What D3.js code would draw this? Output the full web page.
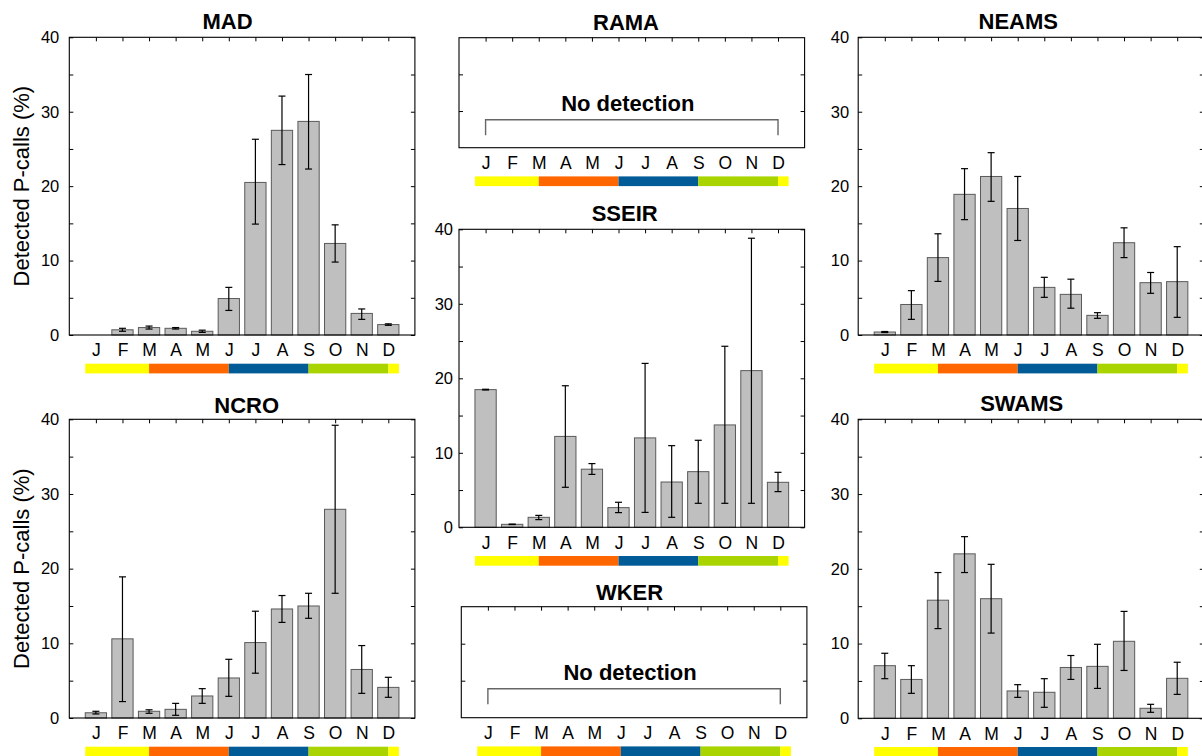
<!DOCTYPE html>
<html>
<head>
<meta charset="utf-8">
<script src="https://cdn.jsdelivr.net/npm/d3@7"></script>
<style>
  html, body { margin: 0; padding: 0; background: #fff; }
  svg { display: block; font-family: "Liberation Sans", Arial, Helvetica, sans-serif; }
</style>
</head>
<body>
<svg id="chart" width="1202" height="756"></svg>
<script>
// ---------- data ----------
const months = ["J","F","M","A","M","J","J","A","S","O","N","D"];
const yTicks = [0, 5, 10, 15, 20, 25, 30, 35, 40];
const yTickLabels = [0, 10, 20, 30, 40];

const madValues  = [null, 0.7, 1.0, 0.9, 0.5, 4.9, 20.5, 27.5, 28.7, 12.3, 2.9, 1.4];
const madLow     = [null, 0.5, 0.8, 0.8, 0.35, 3.3, 14.9, 22.9, 22.3, 9.8, 2.1, 1.3];
const madHigh    = [null, 0.9, 1.2, 1.0, 0.65, 6.4, 26.3, 32.1, 35.0, 14.8, 3.5, 1.5];

const ncroValues = [0.7, 10.6, 0.9, 1.16, 2.95, 5.36, 10.1, 14.6, 15.0, 27.95, 6.5, 4.1];
const ncroLow    = [0.54, 2.2, 0.63, 0.36, 1.96, 2.9, 6.0, 12.8, 13.35, 16.7, 3.3, 2.77];
const ncroHigh   = [0.9, 18.9, 1.1, 1.96, 3.93, 7.86, 14.3, 16.4, 16.7, 39.2, 9.7, 5.45];

const neamsValues = [0.4, 4.1, 10.4, 18.9, 21.3, 17.0, 6.4, 5.46, 2.64, 12.4, 7.03, 7.17];
const neamsLow    = [0.33, 2.1, 7.2, 15.5, 17.96, 12.7, 5.06, 3.6, 2.24, 10.4, 5.6, 2.37];
const neamsHigh   = [0.47, 5.96, 13.6, 22.35, 24.5, 21.3, 7.75, 7.5, 3.0, 14.4, 8.4, 11.87];

const swamsValues = [7.04, 5.2, 15.8, 22.0, 16.0, 3.66, 3.48, 6.8, 6.95, 10.3, 1.34, 5.35];
const swamsLow    = [5.3, 3.34, 12.0, 19.5, 11.4, 2.8, 1.47, 5.2, 4.0, 6.4, 0.8, 3.2];
const swamsHigh   = [8.7, 7.04, 19.5, 24.3, 20.6, 4.5, 5.3, 8.4, 9.9, 14.3, 1.87, 7.5];

const sseirValues = [18.48, 0.4, 1.34, 12.2, 7.8, 2.64, 12.0, 6.08, 7.47, 13.74, 21.03, 6.04];
const sseirLow    = [18.43, 0.37, 1.03, 5.37, 7.1, 1.97, 2.0, 1.34, 3.22, 3.22, 3.22, 4.79];
const sseirHigh   = [18.53, 0.43, 1.6, 19.0, 8.55, 3.36, 22.0, 10.96, 11.68, 24.3, 38.8, 7.38];

const seasonStarts = [0.6, 3, 6, 9, 12];
const seasonEnds   = [3, 6, 9, 12, 12.4];
const seasonColors = ["#ffff00", "#ff6600", "#005b97", "#aad400", "#ffff00"];

const noDetectionText = "No detection";
const yAxisTitle = "Detected P-calls (%)";

// ---------- layout ----------
const W = 345.6, H = 298;
const panels = [
  { name: "MAD",   x0: 69.3,  y0: 37.3,  h: 297.7, tx: 227.5, tdy: 8,   values: madValues,   low: madLow,   high: madHigh,   labels: true, gap: 10, ylabel: true },
  { name: "NCRO",  x0: 69.3,  y0: 419.3, h: 298.7, tx: 246.7, tdy: 6.5, values: ncroValues,  low: ncroLow,  high: ncroHigh,  labels: true, gap: 10, ylabel: true },
  { name: "NEAMS", x0: 858.2, y0: 37.3,  h: 297.7, tx: 1018.3, tdy: 8,  values: neamsValues, low: neamsLow, high: neamsHigh, labels: true, gap: 9 },
  { name: "SWAMS", x0: 858.2, y0: 419.3, h: 299,   tx: 1021.7, tdy: 8,  values: swamsValues, low: swamsLow, high: swamsHigh, labels: true, gap: 9 },
  { name: "SSEIR", x0: 459,   y0: 229.3, h: 298,   tx: 624.7, tdy: 8,   values: sseirValues, low: sseirLow, high: sseirHigh, labels: true, gap: 6 },
  { name: "RAMA",  x0: 459,   y0: 37.7,  h: 110,   tx: 626,   tdy: 8,   noDetect: true },
  { name: "WKER",  x0: 461.3, y0: 606.7, h: 111,   tx: 629.5, tdy: 6.5, noDetect: true }
];

const svg = d3.select("#chart");

panels.forEach(p => {
  const g = svg.append("g");
  const x = d3.scaleLinear().domain([0, 13]).range([p.x0, p.x0 + W]);
  const bottom = p.y0 + p.h;
  const y = p.noDetect
    ? d3.scaleLinear().domain([0, 3]).range([bottom, p.y0])
    : d3.scaleLinear().domain([0, 40]).range([bottom, p.y0]);
  const monthIdx = d3.range(1, 13);

  // bars
  if (!p.noDetect) {
    const bw = x(0.8) - x(0);
    const data = monthIdx.map((m, i) => ({ m, v: p.values[i], lo: p.low[i], hi: p.high[i] }))
      .filter(d => d.v !== null);
    g.selectAll("rect.bar").data(data).enter().append("rect")
      .attr("class", "bar")
      .attr("x", d => x(d.m) - bw / 2)
      .attr("y", d => y(d.v))
      .attr("width", bw)
      .attr("height", d => bottom - y(d.v))
      .attr("fill", "#bfbfbf")
      .attr("stroke", "#5a5a5a")
      .attr("stroke-width", 1);
    // error bars
    const eb = g.selectAll("g.err").data(data).enter().append("g").attr("class", "err")
      .attr("stroke", "#000").attr("stroke-width", 1.2);
    eb.append("line")
      .attr("x1", d => x(d.m)).attr("x2", d => x(d.m))
      .attr("y1", d => y(d.lo)).attr("y2", d => y(d.hi));
    eb.append("line")
      .attr("x1", d => x(d.m) - 3.5).attr("x2", d => x(d.m) + 3.5)
      .attr("y1", d => y(d.lo)).attr("y2", d => y(d.lo));
    eb.append("line")
      .attr("x1", d => x(d.m) - 3.5).attr("x2", d => x(d.m) + 3.5)
      .attr("y1", d => y(d.hi)).attr("y2", d => y(d.hi));
  }

  // frame
  g.append("rect")
    .attr("x", p.x0).attr("y", p.y0).attr("width", W).attr("height", p.h)
    .attr("fill", "none").attr("stroke", "#000").attr("stroke-width", 1.1);

  // left axis
  const tv = p.noDetect ? [1, 2] : yTicks;
  const left = d3.axisLeft(y).tickValues(tv).tickSizeInner(-4).tickSizeOuter(0).tickPadding(p.gap || 6)
    .tickFormat(d => (p.labels && yTickLabels.includes(d)) ? d : "");
  const la = g.append("g").attr("transform", `translate(${p.x0},0)`).call(left);
  la.select(".domain").remove();
  la.selectAll("text").attr("font-size", 16.5).attr("fill", "#000").attr("font-family", "Liberation Sans, Arial, sans-serif");
  la.selectAll("line").attr("stroke", "#000");

  // right axis
  const right = d3.axisRight(y).tickValues(tv).tickSizeInner(-4).tickSizeOuter(0).tickFormat("");
  const ra = g.append("g").attr("transform", `translate(${p.x0 + W},0)`).call(right);
  ra.select(".domain").remove();
  ra.selectAll("line").attr("stroke", "#000");

  // top axis ticks
  const top = d3.axisTop(x).tickValues(monthIdx).tickSizeInner(-4).tickSizeOuter(0).tickFormat("");
  const ta = g.append("g").attr("transform", `translate(0,${p.y0})`).call(top);
  ta.select(".domain").remove();
  ta.selectAll("line").attr("stroke", "#000");

  // bottom month labels
  const bot = d3.axisBottom(x).tickValues(monthIdx).tickSize(0).tickPadding(9)
    .tickFormat((d, i) => months[i]);
  const ba = g.append("g").attr("transform", `translate(0,${bottom})`).call(bot);
  ba.select(".domain").remove();
  ba.selectAll("text").attr("font-size", 17.5).attr("fill", "#000").attr("font-family", "Liberation Sans, Arial, sans-serif");

  // season colour bar
  g.selectAll("rect.season").data(seasonColors).enter().append("rect")
    .attr("class", "season")
    .attr("x", (c, i) => x(seasonStarts[i]))
    .attr("width", (c, i) => x(seasonEnds[i]) - x(seasonStarts[i]))
    .attr("y", bottom + 28.7).attr("height", 9.7)
    .attr("fill", c => c);

  // title
  g.append("text").attr("x", p.tx).attr("y", p.y0 - p.tdy)
    .attr("text-anchor", "middle").attr("font-size", 22).attr("font-weight", "bold")
    .text(p.name);

  // y-axis title
  if (p.ylabel) {
    const cy = p.y0 + p.h / 2;
    g.append("text").attr("transform", `translate(28.6,${cy}) rotate(-90)`)
      .attr("text-anchor", "middle").attr("font-size", 22)
      .text(yAxisTitle);
  }

  // no detection
  if (p.noDetect) {
    g.append("text").attr("x", (x(1) + x(12)) / 2 - 4).attr("y", p.y0 + 73)
      .attr("text-anchor", "middle").attr("font-size", 22).attr("font-weight", "bold")
      .text(noDetectionText);
    g.append("path")
      .attr("d", `M${x(1)},${p.y0 + 97.5}V${p.y0 + 82}H${x(12)}V${p.y0 + 97.5}`)
      .attr("fill", "none").attr("stroke", "#666").attr("stroke-width", 1.4);
  }
});
</script>
</body>
</html>
